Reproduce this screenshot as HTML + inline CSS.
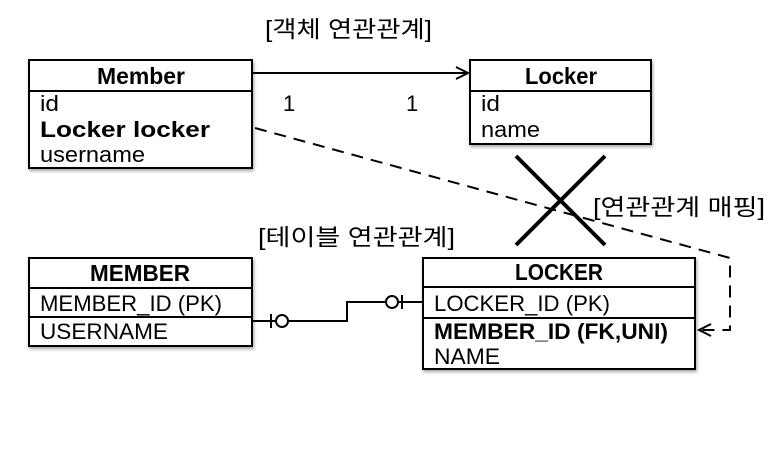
<!DOCTYPE html>
<html><head><meta charset="utf-8"><style>
body{margin:0;background:#fff;width:770px;height:447px;overflow:hidden}
text{font-family:"Liberation Sans","Noto Sans CJK KR",sans-serif;fill:#000}
</style></head><body>
<svg width="770" height="447" viewBox="0 0 770 447" xmlns="http://www.w3.org/2000/svg">
<defs><filter id="sh" x="-10%" y="-10%" width="130%" height="130%"><feDropShadow dx="1" dy="2" stdDeviation="1.5" flood-opacity="0.35"/></filter></defs>
<g stroke="#000" stroke-width="2" fill="#fff">
<rect x="29" y="60" width="223" height="108" filter="url(#sh)"/>
<line x1="29" y1="91" x2="252" y2="91"/>
<rect x="470" y="60" width="181" height="84" filter="url(#sh)"/>
<line x1="470" y1="91" x2="651" y2="91"/>
<rect x="29" y="258" width="223" height="88" filter="url(#sh)"/>
<line x1="29" y1="288" x2="252" y2="288"/>
<line x1="29" y1="317" x2="252" y2="317"/>
<rect x="423" y="258" width="272" height="111" filter="url(#sh)"/>
<line x1="423" y1="287" x2="695" y2="287"/>
<line x1="423" y1="318" x2="695" y2="318"/>
</g>
<g stroke="#000" stroke-width="2" fill="none">
<line x1="252" y1="73" x2="468" y2="73"/>
<polyline points="456,67 468,73 456,79"/>
<polyline points="255,128 730,258 730,330 699,330" stroke-dasharray="12,8"/>
<polyline points="711,324 699,330 711,336"/>
<polyline points="252,321 347,321 347,302 423,302"/>
<circle cx="282" cy="321" r="6" fill="#fff"/>
<line x1="271" y1="314" x2="271" y2="328"/>
<circle cx="392" cy="302" r="6" fill="#fff"/>
<line x1="402" y1="295" x2="402" y2="309"/>
</g>
<g stroke="#000" stroke-width="4">
<line x1="516" y1="156" x2="605" y2="245"/>
<line x1="605" y1="156" x2="516" y2="245"/>
</g>
<text x="265" y="37" font-size="23" textLength="167" lengthAdjust="spacingAndGlyphs">[객체 연관관계]</text>
<text x="97" y="84" font-size="23" font-weight="bold" textLength="88" lengthAdjust="spacingAndGlyphs">Member</text>
<text x="40" y="111" font-size="22" textLength="19" lengthAdjust="spacingAndGlyphs">id</text>
<text x="40" y="137" font-size="22" font-weight="bold" textLength="170" lengthAdjust="spacingAndGlyphs">Locker locker</text>
<text x="40" y="162" font-size="22" textLength="105" lengthAdjust="spacingAndGlyphs">username</text>
<text x="525" y="84" font-size="23" font-weight="bold" textLength="72" lengthAdjust="spacingAndGlyphs">Locker</text>
<text x="481" y="111" font-size="22" textLength="19" lengthAdjust="spacingAndGlyphs">id</text>
<text x="481" y="137" font-size="22" textLength="59" lengthAdjust="spacingAndGlyphs">name</text>
<text x="283" y="111" font-size="22">1</text>
<text x="406" y="111" font-size="22">1</text>
<text x="593" y="215" font-size="23" textLength="172" lengthAdjust="spacingAndGlyphs">[연관관계 매핑]</text>
<text x="258" y="245" font-size="23" textLength="197" lengthAdjust="spacingAndGlyphs">[테이블 연관관계]</text>
<text x="90" y="281" font-size="23" font-weight="bold" textLength="100" lengthAdjust="spacingAndGlyphs">MEMBER</text>
<text x="40" y="311" font-size="22" textLength="182" lengthAdjust="spacingAndGlyphs">MEMBER_ID (PK)</text>
<text x="40" y="339" font-size="22" textLength="128" lengthAdjust="spacingAndGlyphs">USERNAME</text>
<text x="515" y="280" font-size="23" font-weight="bold" textLength="88" lengthAdjust="spacingAndGlyphs">LOCKER</text>
<text x="434" y="311" font-size="22" textLength="176" lengthAdjust="spacingAndGlyphs">LOCKER_ID (PK)</text>
<text x="434" y="339" font-size="22" font-weight="bold" textLength="234" lengthAdjust="spacingAndGlyphs">MEMBER_ID (FK,UNI)</text>
<text x="434" y="364" font-size="22" textLength="66" lengthAdjust="spacingAndGlyphs">NAME</text>
</svg>
</body></html>
